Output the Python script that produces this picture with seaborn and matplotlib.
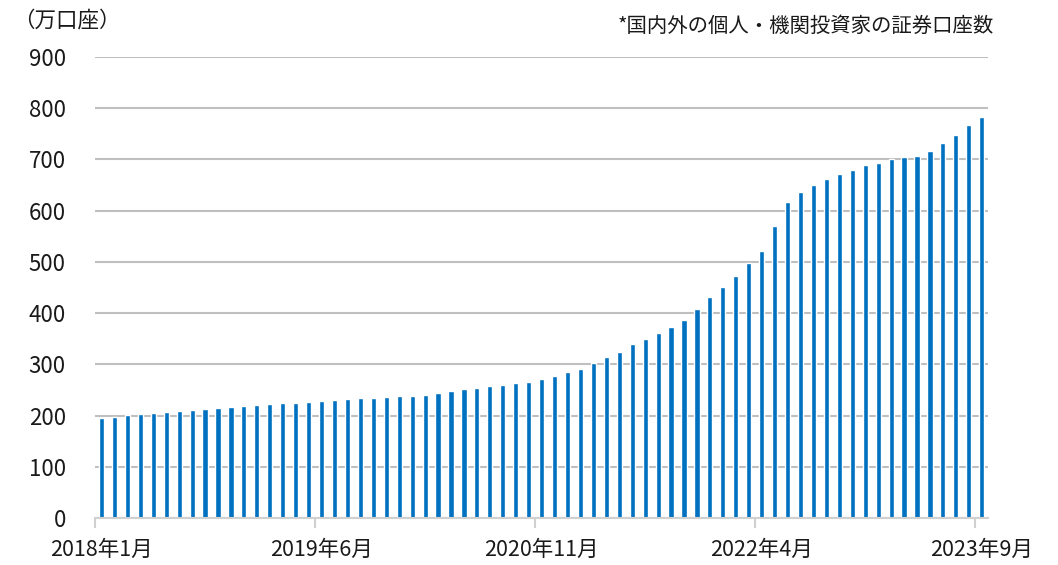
import matplotlib
matplotlib.use("Agg")
import matplotlib.pyplot as plt
import seaborn as sns
import pandas as pd

# ---- data ----
months = [f"{y}年{m}月" for y in range(2018, 2024) for m in range(1, 13)][:69]
accounts = [195, 197, 201, 203, 205, 207, 209, 211, 213, 215,
            217, 219, 220, 222, 224, 225, 227, 229, 231, 233,
            234, 234, 236, 238, 238, 240, 244, 247, 251, 254,
            257, 260, 263, 266, 271, 277, 286, 291, 303, 314,
            325, 339, 349, 361, 373, 386, 408, 431, 451, 472,
            498, 522, 570, 616, 636, 651, 662, 672, 680, 690,
            694, 700, 704, 706, 716, 732, 747, 767, 783]
tick_labels = ["2018年1月", "2019年6月", "2020年11月", "2022年4月", "2023年9月"]
y_ticks = [0, 100, 200, 300, 400, 500, 600, 700, 800, 900]
unit_label = "（万口座）"
note = "*国内外の個人・機関投資家の証券口座数"

df = pd.DataFrame({"month": months, "accounts": accounts})

sns.set_theme(style="white")
plt.rcParams['font.family'] = ['Noto Sans CJK JP', 'DejaVu Sans']

fig = plt.figure(figsize=(10.58, 5.65), dpi=100)
ax = fig.add_axes([0.0898, 0.0832, 0.8442, 0.8159])

sns.barplot(data=df, x="month", y="accounts", color="#0070C0",
            width=0.4, ax=ax, saturation=1)
for p in ax.patches:
    p.set_zorder(3)

ax.set_ylim(0, 900)
ax.set_xlim(-0.5, len(months) - 0.5)
ax.set_yticks(y_ticks)
ax.set_yticklabels([str(v) for v in y_ticks], fontsize=16, color="#1a1a1a")
ax.yaxis.grid(True, color="#BFBFBF", linewidth=1.5, zorder=0)
ax.set_axisbelow(True)

pos = [months.index(l) for l in tick_labels]
ax.set_xticks(pos)
ax.set_xticklabels(tick_labels, fontsize=15.5, color="#1a1a1a")
ax.set_xticks([p - 0.5 for p in pos], minor=True)
ax.tick_params(axis="x", which="major", length=0, pad=15)
ax.tick_params(axis="x", which="minor", length=7, width=1.5, color="#D0D0D0", direction="out", bottom=True)
ax.tick_params(axis="y", length=0, pad=21)

for s in ["top", "right", "left"]:
    ax.spines[s].set_visible(False)
ax.spines["bottom"].set_color("#D0D0D0")
ax.spines["bottom"].set_linewidth(1.5)
ax.spines["bottom"].set_zorder(4)

ax.set_xlabel("")
ax.set_ylabel("")

fig.text(0.012, 0.963, unit_label, fontsize=15.5, color="#1a1a1a", va="center", ha="left")
fig.text(0.939, 0.953, note, fontsize=14.7, color="#1a1a1a", va="center", ha="right")

fig.savefig("out.png", dpi=100)
